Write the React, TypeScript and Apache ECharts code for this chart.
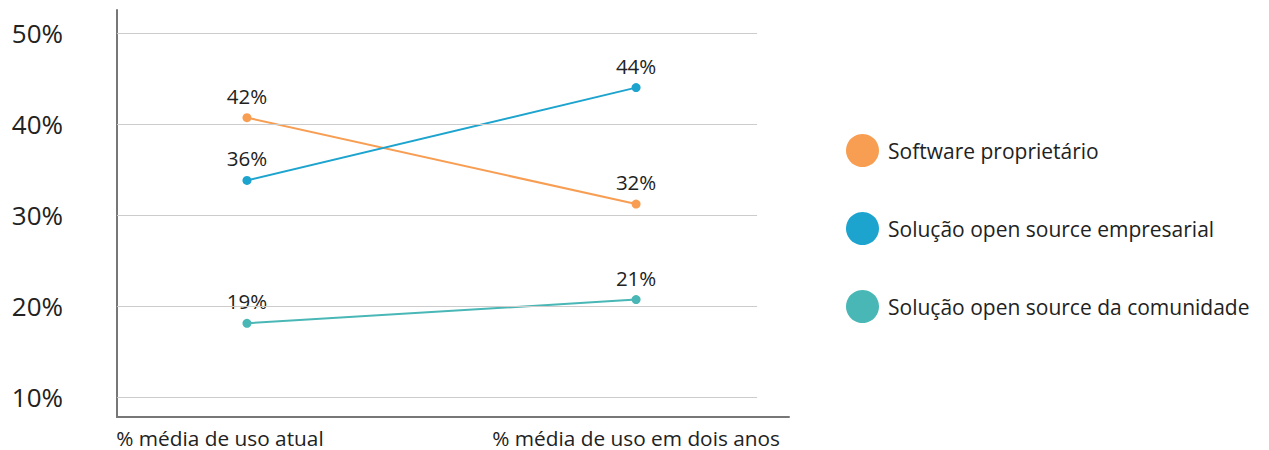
import React, { useEffect, useRef } from "react";
import * as echarts from "echarts";

const categories = ["% média de uso atual", "% média de uso em dois anos"];
const seriesNames = [
  "Software proprietário",
  "Solução open source empresarial",
  "Solução open source da comunidade",
];
// plotted positions
const proprietario = [40.7, 31.2];
const empresarial = [33.8, 44.0];
const comunidade = [18.1, 20.7];
// value labels as printed in the picture
const proprietarioLabels = ["42%", "32%"];
const empresarialLabels = ["36%", "44%"];
const comunidadeLabels = ["19%", "21%"];
const yTicks = [10, 20, 30, 40, 50];

const colors = ["#F79E53", "#1DA4CE", "#48B7B5"];

export default function App() {
  const ref = useRef<HTMLDivElement>(null);
  useEffect(() => {
    if (!ref.current) return;
    const chart = echarts.init(ref.current, null, { renderer: "svg" });
    const font = "'Open Sans', sans-serif";
    const xMin = -0.334;
    const xMax = 1.393;
    const gridEnd = 1.311;
    const mk = (vals: number[], labels: string[], name: string, color: string) => ({
      type: "line",
      name,
      z: 3,
      data: vals.map((v, i) => [i, v]),
      symbol: "circle",
      symbolSize: 9,
      itemStyle: { color },
      lineStyle: { color, width: 2 },
      label: {
        show: true,
        position: "top",
        distance: 7,
        fontFamily: font,
        fontSize: 20.5,
        color: "#222",
        formatter: (p: any) => labels[p.dataIndex],
      },
    });
    chart.setOption({
      animation: false,
      textStyle: { fontFamily: font },
      grid: { left: 117, top: 10, width: 672, height: 407, containLabel: false },
      legend: {
        data: seriesNames,
        orient: "vertical",
        left: 846,
        top: 134,
        padding: 0,
        icon: "circle",
        itemWidth: 33,
        itemHeight: 33,
        itemGap: 45,
        textStyle: { fontFamily: font, fontSize: 21, color: "#222", padding: [0, 0, 0, 4] },
      },
      xAxis: {
        type: "value",
        min: xMin,
        max: xMax,
        splitLine: { show: false },
        axisTick: { show: false },
        axisLine: { show: true, onZero: false, lineStyle: { color: "#777", width: 2 } },
        axisLabel: {
          customValues: [0, 1],
          margin: 10,
          fontFamily: font,
          fontSize: 20.8,
          color: "#222",
          formatter: (v: number) => {
            const i = Math.round(v);
            return i === 0 ? "{a|" + categories[0] + "}" : categories[i];
          },
          rich: { a: { fontFamily: font, fontSize: 20.8, color: "#222", padding: [0, 54, 0, 0] } },
        },
      },
      yAxis: {
        type: "value",
        min: 7.8,
        max: 52.53,
        splitLine: { show: false },
        axisTick: { show: false },
        axisLine: { show: true, onZero: false, lineStyle: { color: "#777", width: 2 } },
        axisLabel: {
          customValues: yTicks,
          margin: 54,
          fontFamily: font,
          fontSize: 26,
          color: "#222",
          formatter: "{value}%",
        },
      },
      series: [
        {
          type: "line",
          name: "grid",
          z: 1,
          data: [],
          silent: true,
          markLine: {
            silent: true,
            symbol: "none",
            label: { show: false },
            lineStyle: { color: "#CCCCCC", width: 1, type: "solid" },
            data: yTicks.map((v) => [{ coord: [xMin, v] }, { coord: [gridEnd, v] }]),
          },
        },
        mk(proprietario, proprietarioLabels, seriesNames[0], colors[0]),
        mk(empresarial, empresarialLabels, seriesNames[1], colors[1]),
        mk(comunidade, comunidadeLabels, seriesNames[2], colors[2]),
      ],
    });
    return () => chart.dispose();
  }, []);
  return (
    <div
      ref={ref}
      style={{ position: "absolute", left: 0, top: 0, width: 1269, height: 450, background: "#fff" }}
    />
  );
}
